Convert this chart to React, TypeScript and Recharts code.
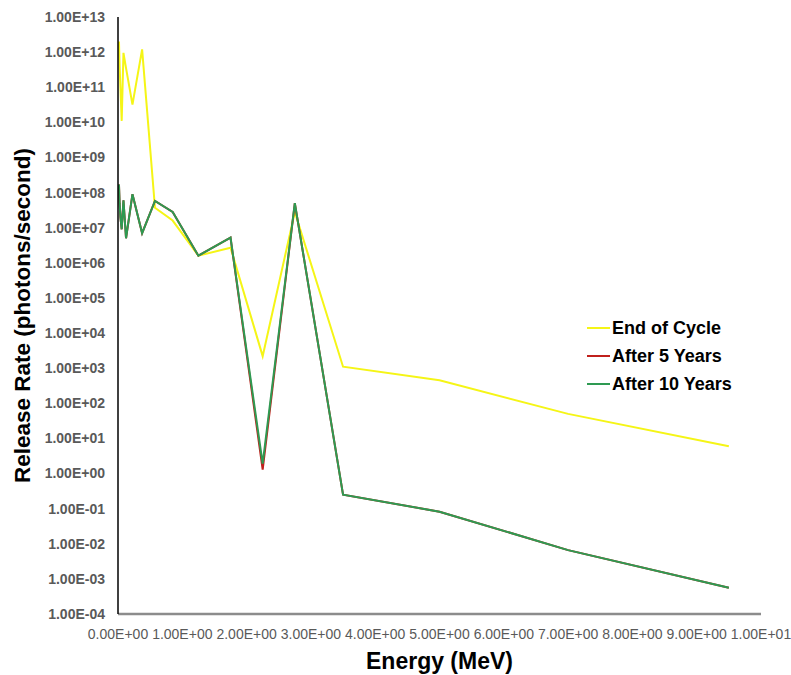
import React from 'react';
import { LineChart, Line, XAxis, YAxis, Label } from 'recharts';

// photon energy group midpoints (MeV)
const energies = [
  0.015, 0.025, 0.0375, 0.0575, 0.085, 0.125, 0.225, 0.375, 0.575, 0.85, 1.25, 1.75, 2.25, 2.75, 3.5, 5.0, 7.0, 9.5,
];

// release rates (photons/second)
const endOfCycle = [
  2.0e12, 4.0e11, 1.0e11, 1.1e10, 9.5e11, 3.5e11, 3.2e10, 1.2e12, 3.7e7, 1.6e7, 1.6e6, 2.7e6, 2.2e3, 2.8e7, 1.1e3, 4.5e2,
  50, 6.0,
];
const after5Years = [
  1.7e8, 5.0e7, 2.0e7, 9.0e6, 6.0e7, 5.0e6, 9.0e7, 7.0e6, 5.8e7, 2.8e7, 1.6e6, 5.2e6, 1.3, 5.0e7, 0.25, 0.082, 0.0066,
  5.6e-4,
];
const after10Years = [
  1.7e8, 5.0e7, 2.0e7, 9.0e6, 6.0e7, 5.0e6, 9.0e7, 7.0e6, 5.8e7, 2.8e7, 1.6e6, 5.2e6, 1.9, 5.0e7, 0.25, 0.082, 0.0066,
  5.6e-4,
];

const xTicks = [0, 1, 2, 3, 4, 5, 6, 7, 8, 9, 10];
const yTicks = [1e-4, 1e-3, 1e-2, 1e-1, 1, 1e1, 1e2, 1e3, 1e4, 1e5, 1e6, 1e7, 1e8, 1e9, 1e10, 1e11, 1e12, 1e13];

const series = [
  { key: 'eoc', name: 'End of Cycle', color: '#f5f516', values: endOfCycle },
  { key: 'y5', name: 'After 5 Years', color: '#c0201c', values: after5Years },
  { key: 'y10', name: 'After 10 Years', color: '#2e9a52', values: after10Years },
];

const data = energies.map((energy, i) => {
  const row: Record<string, number> = { energy };
  series.forEach((s) => {
    row[s.key] = s.values[i];
  });
  return row;
});

const FONT = 'Arial, "Liberation Sans", sans-serif';

// Excel-style scientific notation: 1.00E+05
const sci = (v: number) => {
  const [mant, exp] = v.toExponential(2).split('e');
  const n = parseInt(exp, 10);
  return `${mant}E${n < 0 ? '-' : '+'}${String(Math.abs(n)).padStart(2, '0')}`;
};

const LegendBox = () => (
  <div
    style={{
      position: 'absolute',
      left: 587,
      top: 314,
      fontFamily: FONT,
      fontWeight: 'bold',
      fontSize: 18,
      color: '#000',
    }}
  >
    {series.map((s) => (
      <div key={s.key} style={{ display: 'flex', alignItems: 'center', height: 28 }}>
        <div style={{ width: 23, height: 2, background: s.color, marginRight: 2 }} />
        <span>{s.name}</span>
      </div>
    ))}
  </div>
);

const YTitle = ({ viewBox }: any) => {
  const cx = 30;
  const cy = viewBox.y + viewBox.height / 2;
  return (
    <text
      x={cx}
      y={cy}
      transform={`rotate(-90, ${cx}, ${cy})`}
      textAnchor="middle"
      fontFamily={FONT}
      fontWeight="bold"
      fontSize={22.5}
      fill="#000"
    >
      Release Rate (photons/second)
    </text>
  );
};

const XTitle = ({ viewBox }: any) => (
  <text
    x={viewBox.x + viewBox.width / 2}
    y={669}
    textAnchor="middle"
    fontFamily={FONT}
    fontWeight="bold"
    fontSize={23}
    fill="#000"
  >
    Energy (MeV)
  </text>
);

const App = () => {
  return (
    <div style={{ position: 'absolute', left: 0, top: 0, width: 791, height: 675, background: '#fff' }}>
      <LineChart width={791} height={675} data={data} margin={{ top: 17, right: 30, left: 0, bottom: 0 }}>
        <XAxis
          dataKey="energy"
          type="number"
          domain={[0, 10]}
          ticks={xTicks}
          allowDataOverflow
          tickFormatter={sci}
          interval={0}
          height={61}
          tickSize={0}
          tickMargin={15}
          axisLine={{ stroke: '#8c8c8c', strokeWidth: 2.5 }}
          tick={{ fontFamily: FONT, fontSize: 14, fill: '#595959' }}
        >
          <Label content={<XTitle />} />
        </XAxis>
        <YAxis
          scale="log"
          type="number"
          domain={[1e-4, 1e13]}
          ticks={yTicks}
          allowDataOverflow
          tickFormatter={sci}
          interval={0}
          width={118}
          tickSize={0}
          tickMargin={13}
          axisLine={{ stroke: '#000', strokeWidth: 1.5 }}
          tick={{ fontFamily: FONT, fontSize: 14, fontWeight: 'bold', fill: '#595959' }}
        >
          <Label content={<YTitle />} />
        </YAxis>
        {series.map((s) => (
          <Line
            key={s.key}
            type="linear"
            dataKey={s.key}
            name={s.name}
            stroke={s.color}
            strokeWidth={2}
            dot={false}
            isAnimationActive={false}
          />
        ))}
      </LineChart>
      <LegendBox />
    </div>
  );
};

export default App;
